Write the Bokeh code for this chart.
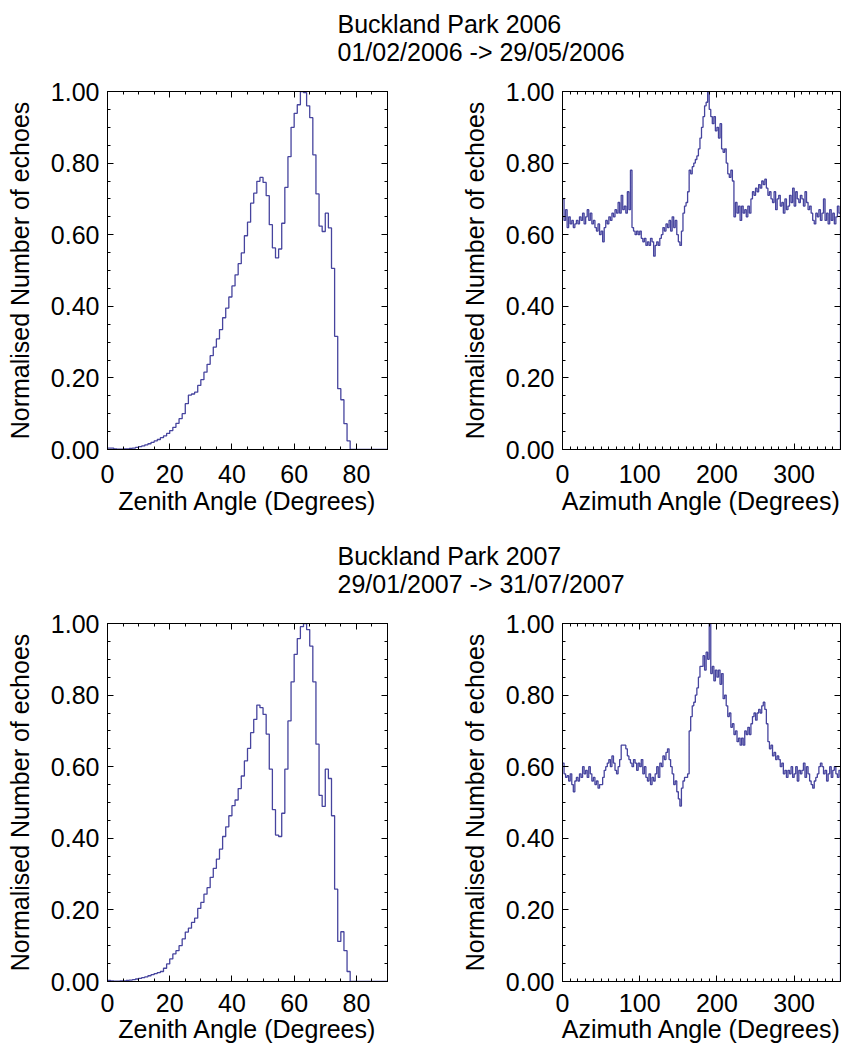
from bokeh.plotting import figure
from bokeh.models import Range1d, LinearAxis, FixedTicker, PrintfTickFormatter
from bokeh.layouts import column, row
from bokeh.embed import file_html
from bokeh.resources import INLINE
from bokeh.core.properties import value

# ---------------- data ----------------
zenith_edges = list(range(0, 91))          # 1-degree bins, 0..90
azimuth_edges = list(range(0, 361, 2))     # 2-degree bins, 0..360

zenith_2006 = [
    0.004, 0.004, 0.002, 0.001, 0.001, 0.002, 0.002, 0.003, 0.004, 0.006,
    0.008, 0.010, 0.013, 0.016, 0.020, 0.024, 0.028, 0.033, 0.038, 0.045,
    0.053, 0.062, 0.073, 0.086, 0.100, 0.128, 0.152, 0.155, 0.160, 0.179,
    0.195, 0.216, 0.238, 0.262, 0.286, 0.309, 0.335, 0.368, 0.395, 0.426,
    0.457, 0.488, 0.519, 0.549, 0.597, 0.635, 0.688, 0.716, 0.749, 0.760,
    0.746, 0.709, 0.628, 0.563, 0.535, 0.560, 0.632, 0.732, 0.818, 0.900,
    0.939, 0.963, 1.000, 0.997, 0.960, 0.927, 0.823, 0.714, 0.624, 0.609,
    0.660, 0.619, 0.506, 0.316, 0.170, 0.139, 0.072, 0.024, 0.0, 0.0,
    0.0, 0.0, 0.0, 0.0, 0.0, 0.0, 0.0, 0.0, 0.0, 0.0,
]

zenith_2007 = [
    0.003, 0.002, 0.001, 0.001, 0.002, 0.002, 0.003, 0.004, 0.005, 0.007,
    0.009, 0.011, 0.013, 0.016, 0.019, 0.022, 0.025, 0.028, 0.037, 0.049,
    0.063, 0.077, 0.086, 0.100, 0.119, 0.138, 0.149, 0.165, 0.177, 0.204,
    0.221, 0.244, 0.262, 0.291, 0.316, 0.342, 0.370, 0.405, 0.432, 0.463,
    0.491, 0.507, 0.539, 0.574, 0.616, 0.651, 0.695, 0.732, 0.772, 0.765,
    0.746, 0.691, 0.593, 0.480, 0.409, 0.405, 0.470, 0.593, 0.728, 0.837,
    0.914, 0.958, 0.991, 1.000, 0.983, 0.937, 0.837, 0.663, 0.520, 0.489,
    0.593, 0.567, 0.463, 0.258, 0.112, 0.139, 0.086, 0.028, 0.0, 0.0,
    0.0, 0.0, 0.0, 0.0, 0.0, 0.0, 0.0, 0.0, 0.0, 0.0,
]

azimuth_2006 = [
    0.70, 0.64, 0.67, 0.62, 0.65, 0.63, 0.64, 0.62, 0.63, 0.64,
    0.63, 0.65, 0.64, 0.66, 0.63, 0.65, 0.67, 0.64, 0.66, 0.63,
    0.64, 0.62, 0.61, 0.63, 0.60, 0.61, 0.58, 0.62, 0.64, 0.63,
    0.65, 0.64, 0.66, 0.65, 0.67, 0.66, 0.69, 0.66, 0.71, 0.67,
    0.68, 0.66, 0.72, 0.67, 0.78, 0.62, 0.61, 0.60, 0.61, 0.60,
    0.61, 0.59, 0.58, 0.59, 0.57, 0.58, 0.57, 0.59, 0.58, 0.54,
    0.57, 0.58, 0.57, 0.59, 0.60, 0.62, 0.61, 0.63, 0.62, 0.64,
    0.61, 0.65, 0.62, 0.64, 0.60, 0.58, 0.57, 0.61, 0.66, 0.68,
    0.69, 0.72, 0.78, 0.77, 0.79, 0.80, 0.81, 0.82, 0.84, 0.87,
    0.90, 0.93, 0.96, 0.97, 1.00, 0.95, 0.93, 0.91, 0.93, 0.89,
    0.90, 0.87, 0.91, 0.84, 0.83, 0.84, 0.80, 0.77, 0.76, 0.78,
    0.75, 0.65, 0.69, 0.66, 0.68, 0.64, 0.68, 0.66, 0.67, 0.65,
    0.68, 0.66, 0.70, 0.72, 0.71, 0.73, 0.72, 0.74, 0.73, 0.75,
    0.74, 0.755, 0.73, 0.71, 0.72, 0.70, 0.69, 0.72, 0.67, 0.70,
    0.71, 0.68, 0.69, 0.66, 0.70, 0.67, 0.68, 0.71, 0.69, 0.73,
    0.68, 0.72, 0.70, 0.69, 0.71, 0.70, 0.68, 0.72, 0.69, 0.67,
    0.68, 0.66, 0.64, 0.63, 0.66, 0.65, 0.67, 0.64, 0.66, 0.70,
    0.64, 0.66, 0.63, 0.67, 0.64, 0.66, 0.63, 0.65, 0.68, 0.66,
]

azimuth_2007 = [
    0.61, 0.58, 0.57, 0.575, 0.56, 0.58, 0.55, 0.53, 0.56, 0.57,
    0.56, 0.58, 0.57, 0.60, 0.58, 0.59, 0.57, 0.60, 0.58, 0.56,
    0.57, 0.55, 0.56, 0.54, 0.55, 0.55, 0.57, 0.59, 0.60, 0.61,
    0.62, 0.60, 0.63, 0.61, 0.59, 0.58, 0.60, 0.62, 0.66, 0.66,
    0.66, 0.65, 0.63, 0.62, 0.61, 0.60, 0.62, 0.61, 0.59, 0.61,
    0.60, 0.62, 0.58, 0.60, 0.57, 0.56, 0.58, 0.55, 0.57, 0.56,
    0.58, 0.60, 0.57, 0.61, 0.60, 0.63, 0.62, 0.64, 0.65, 0.62,
    0.60, 0.58, 0.55, 0.56, 0.53, 0.51, 0.49, 0.54, 0.56, 0.57,
    0.57, 0.58, 0.70, 0.74, 0.77, 0.78, 0.80, 0.82, 0.85, 0.88,
    0.88, 0.91, 0.87, 0.92, 0.90, 1.00, 0.86, 0.88, 0.84, 0.87,
    0.85, 0.87, 0.83, 0.86, 0.79, 0.80, 0.77, 0.74, 0.75, 0.71,
    0.72, 0.69, 0.70, 0.67, 0.68, 0.66, 0.68, 0.66, 0.70, 0.69,
    0.71, 0.69, 0.72, 0.74, 0.75, 0.73, 0.75, 0.76, 0.75, 0.77,
    0.78, 0.76, 0.72, 0.67, 0.65, 0.66, 0.63, 0.64, 0.62, 0.63,
    0.62, 0.60, 0.61, 0.58, 0.59, 0.57, 0.59, 0.58, 0.60, 0.57,
    0.58, 0.60, 0.56, 0.59, 0.58, 0.59, 0.61, 0.57, 0.60, 0.58,
    0.56, 0.55, 0.54, 0.56, 0.57, 0.58, 0.60, 0.61, 0.60, 0.58,
    0.59, 0.56, 0.58, 0.60, 0.57, 0.59, 0.60, 0.58, 0.57, 0.59,
]

titles_2006 = ["Buckland Park 2006", "01/02/2006 -> 29/05/2006"]
titles_2007 = ["Buckland Park 2007", "29/01/2007 -> 31/07/2007"]
y_ticks = [0.0, 0.2, 0.4, 0.6, 0.8, 1.0]
zenith_ticks = [0, 20, 40, 60, 80]
azimuth_ticks = [0, 100, 200, 300]

# ---------------- style ----------------
LINE = "#46449e"
FONT = "Liberation Sans"
FS = "25px"


def style_axis(ax, show):
    ax.axis_line_color = "black"
    ax.axis_line_width = 1
    ax.major_tick_in = 6
    ax.major_tick_out = 0
    ax.minor_tick_in = 3
    ax.minor_tick_out = 0
    ax.major_tick_line_color = "black"
    ax.minor_tick_line_color = "black"
    if show:
        ax.major_label_text_font = FONT
        ax.major_label_text_font_size = FS
        ax.major_label_text_color = "black"
        ax.axis_label_text_font = FONT
        ax.axis_label_text_font_size = FS
        ax.axis_label_text_font_style = "normal"
        ax.axis_label_text_color = "black"
    else:
        ax.major_label_text_font_size = "1px"
        ax.major_label_text_color = None
        ax.major_label_standoff = 0


def panel(edges, vals, xmax, xmajor, xminor_step, xlabel, width, height, bl, br, bt, bb,
          xstand, xlabstand):
    p = figure(width=width, height=height,
               x_range=Range1d(0, xmax), y_range=Range1d(0, 1.0),
               output_backend="svg", toolbar_location=None,
               x_axis_type=None, y_axis_type=None,
               min_border_left=bl, min_border_right=br,
               min_border_top=bt, min_border_bottom=bb)
    p.outline_line_color = "black"
    p.outline_line_width = 1
    p.background_fill_color = "white"
    p.border_fill_color = "white"

    xminor = list(range(0, xmax + 1, xminor_step))
    yminor = [round(i * 0.05, 2) for i in range(21)]

    xb = LinearAxis(ticker=FixedTicker(ticks=xmajor, minor_ticks=xminor), axis_label=xlabel)
    style_axis(xb, True)
    xb.major_label_standoff = xstand
    xb.axis_label_standoff = xlabstand
    p.add_layout(xb, "below")

    xt = LinearAxis(ticker=FixedTicker(ticks=xmajor, minor_ticks=xminor))
    style_axis(xt, False)
    p.add_layout(xt, "above")

    yl = LinearAxis(ticker=FixedTicker(ticks=y_ticks, minor_ticks=yminor),
                    axis_label="Normalised Number of echoes",
                    formatter=PrintfTickFormatter(format="%.2f"))
    style_axis(yl, True)
    yl.major_label_standoff = 8
    yl.axis_label_standoff = 14
    p.add_layout(yl, "left")

    yr = LinearAxis(ticker=FixedTicker(ticks=y_ticks, minor_ticks=yminor))
    style_axis(yr, False)
    p.add_layout(yr, "right")

    p.step(x=edges, y=list(vals) + [0.0], mode="after", line_color=LINE, line_width=1.3)
    return p


def title_fig(lines, h, m1, m2):
    t = figure(width=845, height=h, x_range=Range1d(0, 845), y_range=Range1d(h, 0),
               output_backend="svg", toolbar_location=None,
               x_axis_type=None, y_axis_type=None, min_border=0)
    t.outline_line_color = None
    t.text(x=[337, 337], y=[m1, m2], text=lines,
           text_font=value(FONT), text_font_size=FS,
           text_baseline="middle", text_align="left", text_color="black")
    return t


t1 = title_fig(titles_2006, 71, 23.2, 51.5)
p1 = panel(zenith_edges, zenith_2006, 90, zenith_ticks, 5, "Zenith Angle (Degrees)",
           450, 464, 107, 63, 20, 86, 15, 1)
p2 = panel(azimuth_edges, azimuth_2006, 360, azimuth_ticks, 10, "Azimuth Angle (Degrees)",
           395, 464, 112, 5, 20, 86, 15, 1)
t2 = title_fig(titles_2007, 68, 20.2, 48.5)
p3 = panel(zenith_edges, zenith_2007, 90, zenith_ticks, 5, "Zenith Angle (Degrees)",
           450, 442, 107, 63, 20, 64, 12, 0)
p4 = panel(azimuth_edges, azimuth_2007, 360, azimuth_ticks, 10, "Azimuth Angle (Degrees)",
           395, 442, 112, 5, 20, 64, 12, 0)

layout = column(t1, row(p1, p2), t2, row(p3, p4))

open("out.html", "w").write(file_html(layout, INLINE))
